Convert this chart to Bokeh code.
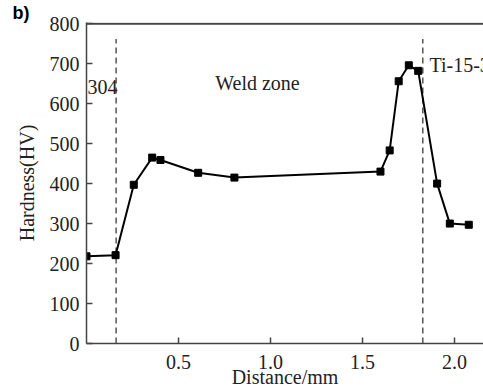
from bokeh.plotting import figure
from bokeh.models import (Range1d, FixedTicker, PrintfTickFormatter,
                          Label, ColumnDataSource)
from bokeh.embed import file_html
from bokeh.resources import INLINE

# Microhardness profile across the weld
distance = [0.0, 0.158, 0.257, 0.357, 0.402, 0.607, 0.804, 1.598, 1.648,
            1.697, 1.752, 1.803, 1.906, 1.975, 2.078]
hardness = [218, 221, 397, 465, 459, 427, 415, 430, 483, 656, 696, 682,
            400, 300, 297]

# Fusion boundaries
boundary_x = [0.161, 1.828]
boundary_top = 762

# Region labels
region_names = ["304", "Weld zone", "Ti-15-3"]
region_x = [0.005, 0.70, 1.864]
region_y = [642, 651, 697]

x_ticks = [0.5, 1.0, 1.5, 2.0]
y_ticks = [0, 100, 200, 300, 400, 500, 600, 700, 800]
x_min, x_max = 0.0, 2.158
y_max = 800

SERIF = "Liberation Serif"
FS = "20px"
AXIS_COLOR = "#444444"
TEXT_COLOR = "#222222"

p = figure(width=483, height=392, output_backend="svg", toolbar_location=None,
           x_range=Range1d(x_min, x_max), y_range=Range1d(0, y_max + 3),
           min_border_left=86, min_border_right=0, min_border_top=15,
           min_border_bottom=49)
p.outline_line_color = None
p.xgrid.visible = False
p.ygrid.visible = False

# Panel letter
p.title.text = "b)"
p.title.align = "left"
p.title.offset = -74
p.title.standoff = 0
p.title.text_font = "Liberation Sans"
p.title.text_font_size = "18px"
p.title.text_font_style = "bold"
p.title.text_color = "black"

# Axes
xa = p.xaxis[0]
xa.ticker = FixedTicker(ticks=x_ticks)
xa.formatter = PrintfTickFormatter(format="%.1f")
xa.axis_label = "Distance/mm"
ya = p.yaxis[0]
ya.ticker = FixedTicker(ticks=y_ticks)
ya.axis_label = "Hardness(HV)"
for ax in (xa, ya):
    ax.major_tick_in = 6
    ax.major_tick_out = 0
    ax.minor_tick_line_color = None
    ax.axis_line_color = AXIS_COLOR
    ax.axis_line_width = 1.5
    ax.major_tick_line_color = AXIS_COLOR
    ax.major_tick_line_width = 1.5
    ax.major_label_text_font = SERIF
    ax.major_label_text_font_size = FS
    ax.major_label_text_color = TEXT_COLOR
    ax.axis_label_text_font = SERIF
    ax.axis_label_text_font_size = FS
    ax.axis_label_text_font_style = "normal"
    ax.axis_label_text_color = TEXT_COLOR
xa.major_label_standoff = 11
xa.axis_label_standoff = -6
ya.major_label_standoff = 7
ya.axis_label_standoff = 9

# Top frame line
p.segment(x0=[x_min], y0=[y_max], x1=[x_max], y1=[y_max],
          line_color=AXIS_COLOR, line_width=2)

# Boundary lines
p.segment(x0=boundary_x, y0=[0, 0], x1=boundary_x, y1=[boundary_top] * 2,
          line_color="#555555", line_width=1.5, line_dash="6 4")

# Hardness curve
src = ColumnDataSource(dict(x=distance, y=hardness))
p.line("x", "y", source=src, line_color="black", line_width=2)
p.scatter("x", "y", source=src, marker="square", size=7,
          fill_color="black", line_color="black")

for name, xv, yv in zip(region_names, region_x, region_y):
    p.add_layout(Label(x=xv, y=yv, text=name, text_font=SERIF,
                       text_font_size=FS, text_color=TEXT_COLOR,
                       text_baseline="middle", text_align="left"))

open("out.html", "w").write(file_html(p, INLINE))
